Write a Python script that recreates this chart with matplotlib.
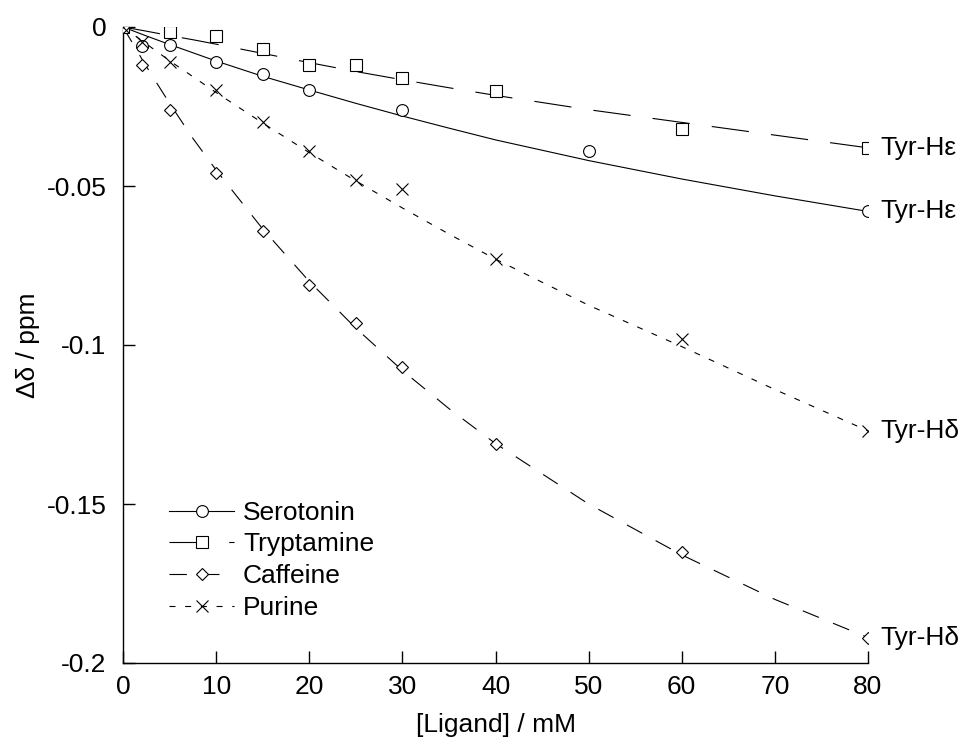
import matplotlib
matplotlib.use("Agg")
import matplotlib.pyplot as plt
from matplotlib.lines import Line2D

plt.rcParams['font.family'] = ['Liberation Sans', 'DejaVu Sans']
plt.rcParams['axes.unicode_minus'] = False
plt.rcParams['lines.scale_dashes'] = False

# measured points
sero_x = [0, 2, 5, 10, 15, 20, 30, 50, 80]
sero_y = [0, -0.006, -0.0057, -0.011, -0.0148, -0.0198, -0.026, -0.039, -0.058]

tryp_x = [0, 5, 10, 15, 20, 25, 30, 40, 60, 80]
tryp_y = [0, -0.0016, -0.0028, -0.0069, -0.012, -0.012, -0.016, -0.020, -0.032, -0.038]

caff_x = [0, 2, 5, 10, 15, 20, 25, 30, 40, 60, 80]
caff_y = [0, -0.012, -0.026, -0.046, -0.064, -0.081, -0.093, -0.107, -0.131, -0.165, -0.192]

pur_x = [0, 2, 5, 10, 15, 20, 25, 30, 40, 60, 80]
pur_y = [0, -0.0047, -0.011, -0.0198, -0.030, -0.039, -0.048, -0.051, -0.073, -0.098, -0.127]

# fitted curves
fit_x = [0, 2.5, 5, 7.5, 10, 15, 20, 25, 30, 35, 40, 50, 60, 70, 80]
sero_fit = [0, -0.0028, -0.0055, -0.0081, -0.0107, -0.0155, -0.0198, -0.0240, -0.0280, -0.0318,
            -0.0355, -0.0420, -0.0478, -0.0531, -0.0580]
tryp_fit = [0, -0.0013, -0.0027, -0.0040, -0.0054, -0.0083, -0.0112, -0.0140, -0.0166, -0.0191,
            -0.0215, -0.0260, -0.0300, -0.0340, -0.0380]
caff_fit = [0, -0.0124, -0.0240, -0.0350, -0.0450, -0.0635, -0.0800, -0.0947, -0.1080, -0.1200,
            -0.1310, -0.1500, -0.1660, -0.1800, -0.1920]
pur_fit = [0, -0.0053, -0.0106, -0.0156, -0.0206, -0.0302, -0.0395, -0.0484, -0.0569, -0.0651,
           -0.0730, -0.0875, -0.1005, -0.1140, -0.1270]

names = ["Serotonin", "Tryptamine", "Caffeine", "Purine"]
end_labels = ["Tyr-H\u03b5", "Tyr-H\u03b5", "Tyr-H\u03b4", "Tyr-H\u03b4"]

xticks = [0, 10, 20, 30, 40, 50, 60, 70, 80]
yticks = [0, -0.05, -0.1, -0.15, -0.2]
ytick_labels = ["0", "-0.05", "-0.1", "-0.15", "-0.2"]

FS = 19
lw = 0.8

fig = plt.figure(figsize=(9.66, 7.47), dpi=100)
ax = fig.add_axes([123 / 966, 1 - 663 / 747, 745 / 966, 636 / 747])

styles = [
    dict(marker='o', ms=8.5, dashes=None),
    dict(marker='s', ms=8.5, dashes=(27, 16)),
    dict(marker='D', ms=6.5, dashes=(12.5, 11)),
    dict(marker='x', ms=8, dashes=(4.3, 7)),
]
px = [sero_x, tryp_x, caff_x, pur_x]
py = [sero_y, tryp_y, caff_y, pur_y]
fits = [sero_fit, tryp_fit, caff_fit, pur_fit]

handles = []
for i in range(4):
    st = styles[i]
    line, = ax.plot(fit_x, fits[i], color='k', lw=lw)
    if st['dashes'] is not None:
        line.set_dashes(st['dashes'])
    ax.plot(px[i], py[i], ls='none', marker=st['marker'], ms=st['ms'],
            mfc='white', mec='k', mew=0.8, zorder=3)
    h = Line2D([], [], color='k', lw=lw, marker=st['marker'], ms=st['ms'],
               mfc='white', mec='k', mew=0.8)
    if st['dashes'] is not None:
        h.set_dashes(st['dashes'])
    handles.append(h)
    ax.annotate(end_labels[i], xy=(px[i][-1], py[i][-1]), xytext=(9, 0),
                textcoords='offset points', ha='left', va='center',
                fontsize=FS, annotation_clip=False)

ax.set_xlim(0, 80)
ax.set_ylim(-0.2, 0)
ax.set_xticks(xticks)
ax.set_yticks(yticks)
ax.set_yticklabels(ytick_labels)
for s in ['top', 'right']:
    ax.spines[s].set_visible(False)
for s in ['left', 'bottom']:
    ax.spines[s].set_linewidth(1.0)
ax.tick_params(direction='in', length=8.5, width=1.0, labelsize=FS)
ax.tick_params(axis='y', pad=12)
ax.tick_params(axis='x', pad=9)

ax.set_xlabel("[Ligand] / mM", fontsize=FS, labelpad=10)
ax.set_ylabel("\u0394\u03b4 / ppm", fontsize=FS, labelpad=5)

ax.legend(handles, names, loc='upper left', bbox_to_anchor=(0.062, 0.255),
          frameon=False, fontsize=FS, handlelength=2.45, handletextpad=0.35,
          labelspacing=0.29, borderpad=0, borderaxespad=0)

fig.savefig("out.png", dpi=100)
